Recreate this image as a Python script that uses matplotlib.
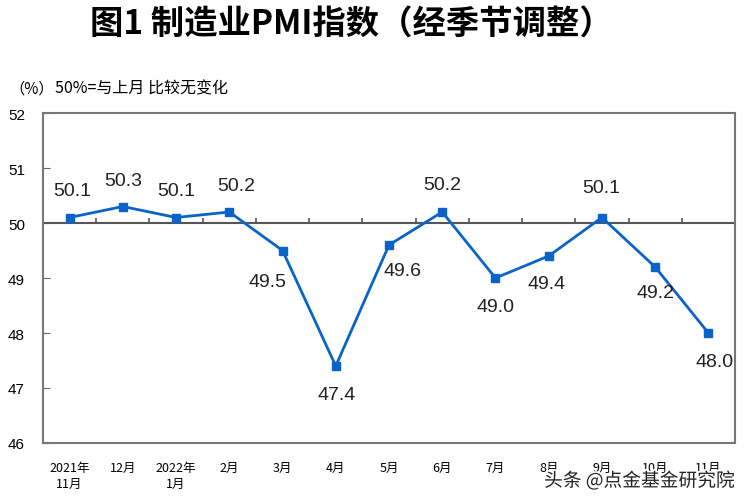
import matplotlib
matplotlib.use('Agg')
import matplotlib.pyplot as plt
import matplotlib.patheffects as pe

plt.rcParams['font.family'] = ['Noto Sans CJK SC', 'DejaVu Sans']

# 数据
months = ['2021年\n11月', '12月', '2022年\n1月', '2月', '3月', '4月', '5月',
          '6月', '7月', '8月', '9月', '10月', '11月']
pmi = [50.1, 50.3, 50.1, 50.2, 49.5, 47.4, 49.6, 50.2, 49.0, 49.4, 50.1, 49.2, 48.0]
y_ticks = [46, 47, 48, 49, 50, 51, 52]

# 标签偏移（像素）
label_offsets = [(3, 27), (0, 26), (0, 27), (7, 26), (-15, -31), (1, -28), (13, -26),
                 (0, 27), (0, -28), (-2, -27), (-1, 30), (0, -26), (6, -28)]

fig = plt.figure(figsize=(7.46, 5.02), dpi=100)
ax = fig.add_axes([43 / 746, 58 / 502, 692 / 746, 330 / 502])

x = list(range(len(months)))
ax.plot(x, pmi, color='#0a64c8', linewidth=2.0, marker='s', markersize=5.5, zorder=3)

for xi, v, (dx, dy) in zip(x, pmi, label_offsets):
    ax.annotate(f'{v:.1f}', (xi, v), xytext=(dx, dy), textcoords='offset pixels',
                ha='center', va='center', fontsize=14, color='#222222',
                family=['Liberation Sans', 'DejaVu Sans'])

# 50线及刻度
ax.axhline(50, color='#555555', linewidth=1.5, zorder=2)
for b in range(len(months) - 1):
    ax.vlines(b + 0.5, 50, 50.09, color='#555555', linewidth=1.2, zorder=2)

ax.set_xlim(-0.5, len(months) - 0.5)
ax.set_ylim(46, 52)
ax.set_yticks(y_ticks)
ax.set_yticklabels([str(t) for t in y_ticks], family=['Liberation Sans', 'DejaVu Sans'],
                   fontsize=11)
ax.tick_params(axis='y', direction='in', length=5, color='#666666', pad=13)
ax.set_xticks(x)
ax.set_xticklabels(months, fontsize=9, linespacing=1.3)
ax.tick_params(axis='x', length=0, pad=13)

for s in ax.spines.values():
    s.set_color('#777777')
    s.set_linewidth(1.5)

fig.text(0.471, 0.952, '图1 制造业PMI指数（经季节调整）', ha='center', va='center',
         fontsize=24, fontweight='bold')
fig.text(0.012, 0.823, '（%）', ha='left', va='center', fontsize=11)
fig.text(0.074, 0.823, '50%=与上月 比较无变化', ha='left', va='center', fontsize=11.5)

fig.text(0.985, 0.04, '头条 @点金基金研究院', ha='right', va='center', fontsize=13.5,
         color='#222222', path_effects=[pe.withStroke(linewidth=2.5, foreground='white')])

fig.savefig('out.png', dpi=100)
